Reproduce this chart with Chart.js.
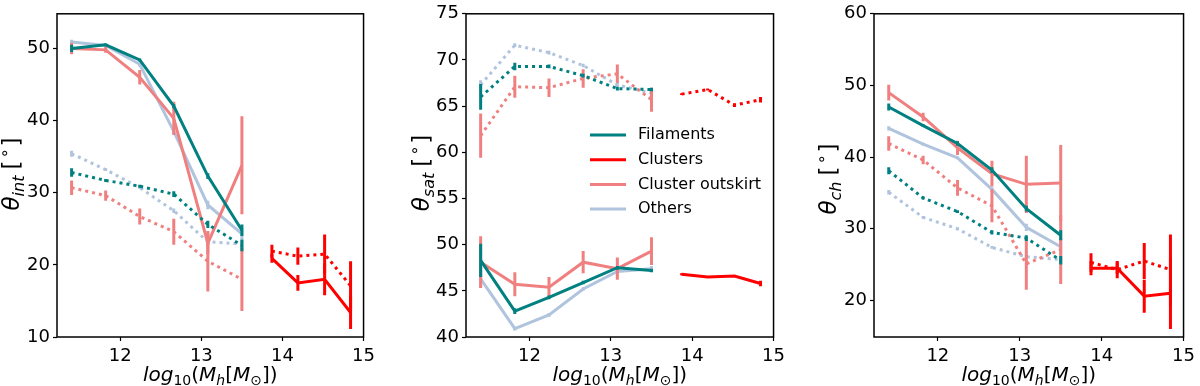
<!DOCTYPE html>
<html>
<head>
<meta charset="utf-8">
<script src="https://cdn.jsdelivr.net/npm/chart.js@4.4.0/dist/chart.umd.min.js"></script>
<style>
body { margin: 0; background: #fff; }
#wrap { position: relative; width: 1200px; height: 386px; }
canvas { position: absolute; top: 0; }
</style>
</head>
<body>
<div id="wrap">
<canvas id="intChart" width="380" height="386" style="left:0px"></canvas>
<canvas id="satChart" width="390" height="386" style="left:400px"></canvas>
<canvas id="chChart" width="400" height="386" style="left:800px"></canvas>
</div>
<script>
// halo mass bins (log10 Mh)
const massLow = [11.40, 11.82, 12.24, 12.66, 13.08, 13.50];
const massHigh = [13.87, 14.19, 14.52, 14.84];
const xTicks = [12, 13, 14, 15];

const legendLabels = ["Filaments", "Clusters", "Cluster outskirt", "Others"];

// theta_int
const intFilSolid = [50.0, 50.5, 48.4, 42.0, 32.3, 24.8];
const intFilSolidErr = [0.5, 0.2, 0.2, 0.3, 0.4, 0.8];
const intFilDot = [32.8, 31.7, 30.9, 29.8, 25.6, 22.7];
const intFilDotErr = [0.6, 0.2, 0.2, 0.4, 0.5, 0.8];
const intOutSolid = [50.0, 49.8, 46.0, 40.3, 23.0, 33.8];
const intOutSolidErr = [0.8, 0.4, 1.0, 2.3, 1.5, 6.8];
const intOutDot = [30.7, 29.6, 26.7, 24.6, 20.5, 18.0];
const intOutDotErr = [1.0, 0.7, 1.1, 1.8, 4.2, 4.4];
const intOthSolid = [50.9, 50.4, 47.8, 38.5, 28.3, 24.3];
const intOthSolidErr = [0.3, 0.2, 0.3, 0.4, 0.6, 0.8];
const intOthDot = [35.4, 33.2, 30.7, 27.5, 23.2, 22.9];
const intOthDotErr = [0.4, 0.2, 0.2, 0.3, 0.5, 0.5];
const intCluSolid = [20.9, 17.5, 18.0, 13.4];
const intCluSolidErr = [0.6, 1.1, 2.2, 2.3];
const intCluDot = [21.9, 21.2, 21.5, 17.1];
const intCluDotErr = [0.9, 1.2, 2.7, 3.4];
const intTicks = [10, 20, 30, 40, 50];

// theta_sat
const satFilSolid = [48.3, 42.8, 44.3, 45.9, 47.5, 47.2];
const satFilSolidErr = [1.8, 0.3, 0.2, 0.2, 0.2, 0.2];
const satFilDot = [66.0, 69.3, 69.3, 68.3, 66.9, 66.8];
const satFilDotErr = [1.4, 0.4, 0.2, 0.2, 0.2, 0.2];
const satOutSolid = [48.1, 45.7, 45.4, 48.1, 47.4, 49.3];
const satOutSolidErr = [2.8, 1.3, 1.1, 1.2, 1.2, 1.5];
const satOutDot = [61.8, 67.1, 67.0, 68.0, 68.5, 65.7];
const satOutDotErr = [2.4, 1.2, 1.0, 1.0, 1.0, 1.3];
const satOthSolid = [46.3, 40.9, 42.4, 45.2, 47.1, 47.4];
const satOthSolidErr = [1.0, 0.2, 0.2, 0.2, 0.2, 0.3];
const satOthDot = [67.3, 71.6, 70.8, 69.4, 67.3, 66.4];
const satOthDotErr = [0.5, 0.2, 0.2, 0.2, 0.2, 0.5];
const satCluSolid = [46.8, 46.5, 46.6, 45.8];
const satCluSolidErr = [0.1, 0.1, 0.1, 0.3];
const satCluDot = [66.3, 66.8, 65.1, 65.7];
const satCluDotErr = [0.1, 0.1, 0.2, 0.3];
const satTicks = [40, 45, 50, 55, 60, 65, 70, 75];

// theta_ch
const chFilSolid = [47.0, 44.4, 41.9, 38.2, 32.8, 29.1];
const chFilSolidErr = [0.5, 0.2, 0.3, 0.4, 0.4, 0.7];
const chFilDot = [38.1, 34.3, 32.4, 29.5, 28.7, 25.6];
const chFilDotErr = [0.5, 0.2, 0.2, 0.3, 0.4, 0.6];
const chOutSolid = [49.0, 45.6, 41.3, 37.7, 36.2, 36.4];
const chOutSolidErr = [1.1, 0.6, 1.0, 1.8, 4.0, 5.3];
const chOutDot = [41.9, 39.6, 35.7, 33.2, 25.1, 27.1];
const chOutDotErr = [1.0, 0.6, 1.1, 2.3, 3.6, 4.8];
const chOthSolid = [44.0, 41.8, 39.9, 35.5, 30.2, 27.5];
const chOthSolidErr = [0.3, 0.2, 0.2, 0.3, 0.5, 1.2];
const chOthDot = [35.1, 31.6, 30.0, 27.4, 26.1, 25.7];
const chOthDotErr = [0.3, 0.2, 0.2, 0.2, 0.3, 0.4];
const chCluSolid = [24.5, 24.5, 20.6, 21.0];
const chCluSolidErr = [1.0, 0.8, 2.3, 5.0];
const chCluDot = [25.3, 24.3, 25.5, 24.3];
const chCluDotErr = [1.3, 1.2, 2.5, 4.9];
const chTicks = [20, 30, 40, 50, 60];

const FIL = "#008080";
const CLU = "#ff0000";
const OUT = "#f08080";
const OTH = "#b0c4de";
const legendColors = [FIL, CLU, OUT, OTH];

Chart.defaults.font.family = "'DejaVu Sans'";
Chart.defaults.font.size = 18;
Chart.defaults.color = "#000";

function series(xs, ys, errs, color, dotted) {
    return {
        data: xs.map((x, i) => ({x: x, y: ys[i]})),
        errs: errs,
        borderColor: color,
        borderWidth: 3,
        borderDash: dotted ? [3, 4] : [],
        borderCapStyle: "butt",
        pointRadius: 0,
        fill: false,
        tension: 0
    };
}

// vertical error bars, drawn right after each line
const errorBars = {
    id: "errorBars",
    afterDatasetDraw(chart, args) {
        const ds = chart.data.datasets[args.index];
        if (!ds.errs) return;
        const ctx = chart.ctx;
        const a = chart.chartArea;
        const xs = chart.scales.x, ys = chart.scales.y;
        ctx.save();
        ctx.beginPath();
        ctx.rect(a.left, a.top, a.right - a.left, a.bottom - a.top);
        ctx.clip();
        ctx.strokeStyle = ds.borderColor;
        ctx.lineWidth = 3;
        ds.data.forEach((p, i) => {
            const px = xs.getPixelForValue(p.x);
            ctx.beginPath();
            ctx.moveTo(px, ys.getPixelForValue(p.y - ds.errs[i]));
            ctx.lineTo(px, ys.getPixelForValue(p.y + ds.errs[i]));
            ctx.stroke();
        });
        ctx.restore();
    }
};

const frame = {
    id: "frame",
    afterDraw(chart) {
        const a = chart.chartArea;
        const ctx = chart.ctx;
        ctx.save();
        ctx.strokeStyle = "#000";
        ctx.lineWidth = 1.5;
        ctx.strokeRect(a.left, a.top, a.right - a.left, a.bottom - a.top);
        ctx.restore();
    }
};

// small mathtext-like labels: italic, sub- and superscripts
function partFont(p, size) {
    const s = (p.sub || p.sup) ? size * 0.7 : size;
    return (p.it ? "italic " : "") + s + "px 'DejaVu Sans'";
}
function partsWidth(ctx, parts, size) {
    let w = 0;
    parts.forEach(p => {
        ctx.font = partFont(p, size);
        w += ctx.measureText(p.t).width + (p.gap || 0);
    });
    return w;
}
function drawParts(ctx, parts, x, y, size) {
    let cx = x;
    parts.forEach(p => {
        ctx.font = partFont(p, size);
        const dy = p.sub ? size * 0.22 : (p.sup ? -size * 0.4 : 0);
        ctx.fillText(p.t, cx, y + dy);
        cx += ctx.measureText(p.t).width + (p.gap || 0);
    });
}

const xTitle = [{t: "log", it: 1}, {t: "10", sub: 1}, {t: "("}, {t: "M", it: 1}, {t: "h", it: 1, sub: 1},
    {t: "["}, {t: "M", it: 1}, {t: "⊙", sub: 1}, {t: "]"}, {t: ")"}];
function yTitle(name) {
    return [{t: "θ", it: 1}, {t: name, it: 1, sub: 1, gap: 6}, {t: "[", gap: 2}, {t: "∘", sup: 1, gap: 2}, {t: "]"}];
}

const titles = {
    id: "titles",
    afterDraw(chart, args, opts) {
        const ctx = chart.ctx;
        const a = chart.chartArea;
        ctx.save();
        ctx.fillStyle = "#000";
        ctx.textBaseline = "alphabetic";
        ctx.textAlign = "left";
        const xw = partsWidth(ctx, xTitle, 20);
        drawParts(ctx, xTitle, (a.left + a.right) / 2 - xw / 2, 381, 20);
        const yParts = yTitle(opts.name);
        const yw = partsWidth(ctx, yParts, 23);
        ctx.translate(opts.yx, opts.yy);
        ctx.rotate(-Math.PI / 2);
        drawParts(ctx, yParts, -yw / 2, 0, 23);
        ctx.restore();
    }
};

const legendBox = {
    id: "legendBox",
    afterDraw(chart) {
        const ctx = chart.ctx;
        ctx.save();
        ctx.font = "16px 'DejaVu Sans'";
        ctx.textBaseline = "middle";
        ctx.fillStyle = "#000";
        legendLabels.forEach((label, i) => {
            const y = 135 + i * 24.7;
            ctx.strokeStyle = legendColors[i];
            ctx.lineWidth = 3;
            ctx.beginPath();
            ctx.moveTo(190, y);
            ctx.lineTo(226, y);
            ctx.stroke();
            ctx.fillText(label, 238, y);
        });
        ctx.restore();
    }
};

function makePanel(id, sets, yMin, yMax, yTicks, layout, name, extra) {
    const ctx = document.getElementById(id).getContext("2d");
    return new Chart(ctx, {
        type: "line",
        data: {datasets: sets},
        options: {
            responsive: false,
            animation: false,
            layout: {padding: {left: 0, right: layout.right, top: layout.top, bottom: 0}},
            plugins: {
                legend: {display: false},
                tooltip: {enabled: false},
                titles: {name: name, yx: layout.tx, yy: layout.ty}
            },
            scales: {
                x: {
                    type: "linear",
                    min: 11.22,
                    max: 15,
                    afterBuildTicks: s => { s.ticks = xTicks.map(v => ({value: v})); },
                    afterFit: s => { s.height = 49; },
                    grid: {drawOnChartArea: false, tickLength: 4, tickColor: "#000", tickWidth: 1.2},
                    border: {display: false},
                    ticks: {padding: 5, maxRotation: 0, color: "#000"}
                },
                y: {
                    min: yMin,
                    max: yMax,
                    afterBuildTicks: s => { s.ticks = yTicks.map(v => ({value: v})); },
                    afterFit: s => { s.width = layout.axis; },
                    grid: {drawOnChartArea: false, tickLength: 4, tickColor: "#000", tickWidth: 1.2},
                    border: {display: false},
                    ticks: {padding: 3, color: "#000"}
                }
            }
        },
        plugins: [errorBars, frame, titles].concat(extra || [])
    });
}

makePanel("intChart", [
    series(massLow, intFilSolid, intFilSolidErr, FIL, false),
    series(massLow, intFilDot, intFilDotErr, FIL, true),
    series(massHigh, intCluSolid, intCluSolidErr, CLU, false),
    series(massHigh, intCluDot, intCluDotErr, CLU, true),
    series(massLow, intOutSolid, intOutSolidErr, OUT, false),
    series(massLow, intOutDot, intOutDotErr, OUT, true),
    series(massLow, intOthSolid, intOthSolidErr, OTH, false),
    series(massLow, intOthDot, intOthDotErr, OTH, true)
], 10, 54.8, intTicks, {axis: 57, right: 7, top: 1, tx: 19, ty: 174}, "int");

makePanel("satChart", [
    series(massLow, satFilSolid, satFilSolidErr, FIL, false),
    series(massLow, satFilDot, satFilDotErr, FIL, true),
    series(massHigh, satCluSolid, satCluSolidErr, CLU, false),
    series(massHigh, satCluDot, satCluDotErr, CLU, true),
    series(massLow, satOutSolid, satOutSolidErr, OUT, false),
    series(massLow, satOutDot, satOutDotErr, OUT, true),
    series(massLow, satOthSolid, satOthSolidErr, OTH, false),
    series(massLow, satOthDot, satOthDotErr, OTH, true)
], 40, 75, satTicks, {axis: 66, right: 8, top: 9, tx: 29, ty: 173}, "sat", [legendBox]);

makePanel("chChart", [
    series(massLow, chFilSolid, chFilSolidErr, FIL, false),
    series(massLow, chFilDot, chFilDotErr, FIL, true),
    series(massHigh, chCluSolid, chCluSolidErr, CLU, false),
    series(massHigh, chCluDot, chCluDotErr, CLU, true),
    series(massLow, chOutSolid, chOutSolidErr, OUT, false),
    series(massLow, chOutDot, chOutDotErr, OUT, true),
    series(massLow, chOthSolid, chOthSolidErr, OTH, false),
    series(massLow, chOthDot, chOthDotErr, OTH, true)
], 14.9, 60, chTicks, {axis: 74, right: 11, top: 9, tx: 36, ty: 179}, "ch");
</script>
</body>
</html>
